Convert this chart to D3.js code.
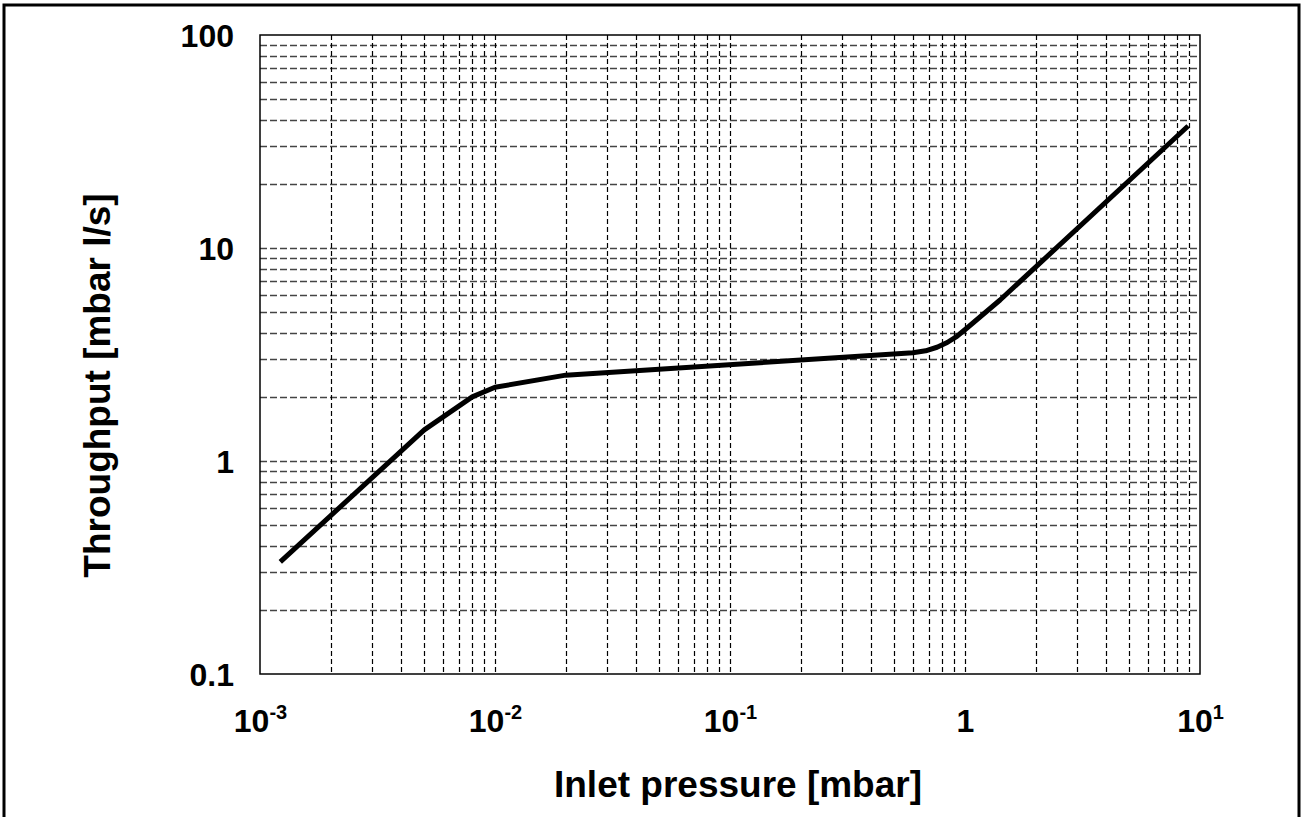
<!DOCTYPE html>
<html>
<head>
<meta charset="utf-8">
<script src="https://cdn.jsdelivr.net/npm/d3@7/dist/d3.min.js"></script>
<style>
  html, body { margin: 0; padding: 0; background: #fff; }
  svg { display: block; }
  text { font-family: "Liberation Sans", Arial, sans-serif; font-weight: bold; fill: #000; }
</style>
</head>
<body>
<svg id="chart" width="1304" height="817"></svg>
<script>
// ---- data ----
const pressure   = [0.00122, 0.005, 0.008, 0.01, 0.02, 0.6, 0.68, 0.76, 0.84, 0.924, 1.02, 1.41, 8.9];
const throughput = [0.336,   1.40,  2.0,   2.22, 2.53, 3.22, 3.29, 3.42, 3.6, 3.85, 4.21, 5.7,  37.4];
const xTickValues = [0.001, 0.01, 0.1, 1, 10];
const xTickBase   = ["10", "10", "10", "1", "10"];
const xTickExp    = ["-3", "-2", "-1", "", "1"];
const yTickValues = [0.1, 1, 10, 100];
const yTickLabels = ["0.1", "1", "10", "100"];
const xTitle = "Inlet pressure [mbar]";
const yTitle = "Throughput [mbar l/s]";

// ---- layout ----
const svg = d3.select("#chart");
const L = 260, R = 1200, T = 35, B = 674;
const x = d3.scaleLog().domain([0.001, 10]).range([L, R]);
const y = d3.scaleLog().domain([0.1, 100]).range([B, T]);

// outer frame
svg.append("rect").attr("x", 4).attr("y", 5).attr("width", 1295).attr("height", 830)
  .attr("fill", "none").attr("stroke", "#000").attr("stroke-width", 3);

// minor + major grid values
const xGrid = [];
for (let e = -3; e < 1; e++) for (let m = 1; m < 10; m++) xGrid.push(m * Math.pow(10, e));
const yGrid = [];
for (let e = -1; e < 2; e++) for (let m = 1; m < 10; m++) yGrid.push(m * Math.pow(10, e));

const g = svg.append("g");
g.selectAll("line.hg").data(yGrid.filter(v => v > 0.1 + 1e-9)).enter().append("line")
  .attr("x1", L).attr("x2", R)
  .attr("y1", d => Math.round(y(d)) + 0.5).attr("y2", d => Math.round(y(d)) + 0.5)
  .attr("stroke", "#444").attr("stroke-width", 1.3).attr("stroke-dasharray", "7,3");
g.selectAll("line.vg").data(xGrid.filter(v => v > 0.001 + 1e-9)).enter().append("line")
  .attr("y1", T).attr("y2", B)
  .attr("x1", d => Math.round(x(d)) + 0.5).attr("x2", d => Math.round(x(d)) + 0.5)
  .attr("stroke", "#000").attr("stroke-width", 1.2).attr("stroke-dasharray", "5,3");

// plot frame
svg.append("rect").attr("x", L).attr("y", T).attr("width", R - L).attr("height", B - T)
  .attr("fill", "none").attr("stroke", "#000").attr("stroke-width", 1.5);

// axes (labels only)
const yAxis = d3.axisLeft(y).tickValues(yTickValues).tickSize(0).tickPadding(26)
  .tickFormat((d, i) => yTickLabels[i]);
const ya = svg.append("g").attr("transform", `translate(${L},0)`).call(yAxis);
ya.select(".domain").remove();
ya.selectAll("text").style("font-size", "32px").attr("dy", "0.36em");

const xAxis = d3.axisBottom(x).tickValues(xTickValues).tickSize(0).tickFormat("");
const xa = svg.append("g").attr("transform", `translate(0,${B})`).call(xAxis);
xa.select(".domain").remove();
xa.selectAll(".tick").each(function(d, i) {
  const t = d3.select(this).append("text").attr("y", 58).attr("text-anchor", "middle")
    .style("font-size", "32px");
  t.append("tspan").text(xTickBase[i]);
  if (xTickExp[i]) t.append("tspan").attr("dy", -13).style("font-size", "20px").text(xTickExp[i]);
});

// titles
svg.append("text").attr("x", (L + R) / 2 + 8).attr("y", 797).attr("text-anchor", "middle")
  .style("font-size", "37px").text(xTitle);
svg.append("text").attr("transform", `translate(110,${(T + B) / 2 + 31}) rotate(-90)`)
  .attr("text-anchor", "middle").style("font-size", "37px").text(yTitle);

// curve
const pts = pressure.map((p, i) => [p, throughput[i]]);
svg.append("path").datum(pts)
  .attr("d", d3.line().x(d => x(d[0])).y(d => y(d[1])).curve(d3.curveLinear))
  .attr("fill", "none").attr("stroke", "#000").attr("stroke-width", 5)
  .attr("stroke-linejoin", "round").attr("stroke-linecap", "butt");
</script>
</body>
</html>
